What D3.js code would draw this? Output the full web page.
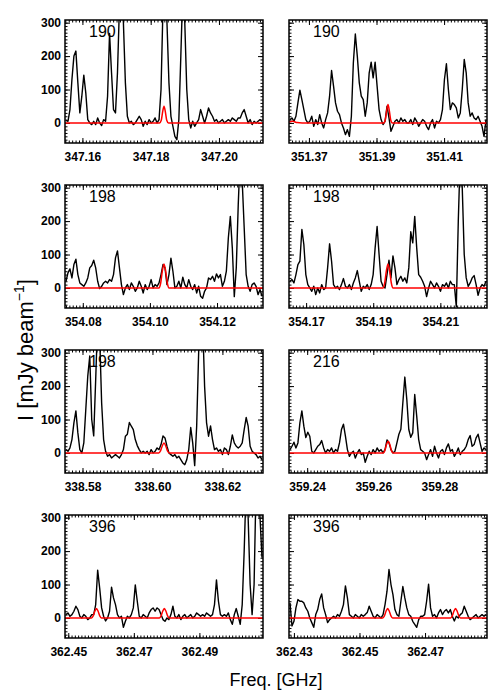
<!DOCTYPE html>
<html>
<head>
<meta charset="utf-8">
<script src="https://cdn.jsdelivr.net/npm/d3@7"></script>
<style>
  body { margin: 0; background: #fff; }
  svg { display: block; }
</style>
</head>
<body>
<svg id="chart"></svg>
<script>
// panel labels and frequency windows (GHz), left-to-right, top-to-bottom
const panelLabels = ["190", "190", "198", "198", "198", "216", "396", "396"];

const freqRanges = [
    [347.1549, 347.2129],
    [351.3641, 351.4227],
    [354.0747, 354.1337],
    [354.1649, 354.2239],
    [338.5750, 338.6316],
    [359.2345, 359.2944],
    [362.4490, 362.5094],
    [362.4285, 362.4889]
];

const xTickLabels = [
    [347.16, 347.18, 347.20],
    [351.37, 351.39, 351.41],
    [354.08, 354.10, 354.12],
    [354.17, 354.19, 354.21],
    [338.58, 338.60, 338.62],
    [359.24, 359.26, 359.28],
    [362.45, 362.47, 362.49],
    [362.43, 362.45, 362.47]
];

const yTickLabels = [0, 100, 200, 300];

// observed spectra (mJy/beam), channels evenly spread over each window
const spec1 = [
    8, 5, 40, 130, 200, 215, 120, 30, 80, 143,
    90, 10, 0, -5, 5, -5, 15, 0, -8, 10,
    5, 80, 268, 150, 40, 30, 150, 350, 400, 300,
    120, 20, 0, 5, -5, 0, 10, 20, 10, -10,
    5, -5, 10, 0, 5, 15, 0, 10, 100, 350,
    400, 300, 120, 20, -10, -40, -50, 10, 200, 400,
    300, 100, 10, -15, 5, -10, 0, 10, 40, 20,
    0, 20, 45, 30, 20, 5, 10, 0, 5, 10,
    0, 5, 10, 5, 15, 10, 5, 15, 15, 30,
    40, 20, 0, 10, -5, 5, 0, 5, 10, 5
];
const spec2 = [
    10, 15, 5, 20, 60, 98, 70, 40, 10, 0,
    5, 20, -10, 10, -5, 25, 0, -15, 10, 30,
    80, 157, 110, 60, 35, 25, 0, -15, -35, -20,
    -40, 20, 180, 266, 200, 120, 80, 70, 20, 60,
    150, 182, 135, 182, 110, 40, 10, -5, 5, 50,
    15, -25, -10, 5, 10, 0, 15, 5, 10, 0,
    0, 10, -5, 15, 5, -10, 0, 10, 5, -10,
    -20, 0, 10, -15, 5, 0, 10, 40, 130, 177,
    100, 40, 60, 55, 45, 15, 30, 100, 190, 150,
    60, 20, 30, 15, 10, 20, 5, -10, -40, 10
];
const spec3 = [
    20, 45, 57, 30, 70, 86, 40, 15, 10, 5,
    15, 30, 60, 67, 83, 60, 20, -2, 5, 15,
    20, 15, 25, 20, 40, 90, 111, 60, 10, -20,
    0, 10, -5, 15, 5, -10, 0, 20, 5, -15,
    10, -5, 5, 25, 0, 10, 5, 15, 40, 70,
    60, 10, 40, 89, 50, 0, 5, 20, 0, 32,
    10, 0, 25, 5, -5, 10, -15, 5, -25, -31,
    -10, 0, 30, 25, 35, 20, 42, 30, 40, 5,
    20, 50, 150, 214, 120, -26, 60, 250, 400, 320,
    180, 40, 5, -10, 10, 15, 5, -20, -5, -25
];
const spec4 = [
    20, 25, 15, 40, 70, 80, 175, 130, 40, 10,
    0, -10, 5, -20, 0, -15, 10, -5, 0, 60,
    132, 80, 10, 0, 5, -5, 10, 28, 5, 0,
    10, -5, 15, 30, 52, 20, -10, 5, 0, 10,
    -5, 10, 40, 120, 184, 100, 20, 5, 0, 40,
    83, 30, 96, 60, 10, 25, 35, 20, 30, 15,
    60, 168, 135, 214, 120, 40, 32, 20, 5, -26,
    0, 20, 10, 0, 15, 5, -10, 10, 5, 15,
    0, 20, 10, 10, -56, 200, 400, 300, 100, 30,
    5, 15, 30, 37, 10, -22, 0, 10, 5, 20
];
const spec5 = [
    10, 5, 15, 40, 90, 126, 60, 10, 0, 30,
    130, 230, 290, 100, 51, 220, 400, 350, 150, 40,
    5, -10, -5, -15, -10, -5, -10, -15, -5, 10,
    50, 56, 91, 80, 70, 40, 22, 10, 0, 5,
    0, 5, -5, 10, 0, 5, 15, 10, 25, 51,
    45, 20, 0, -5, -10, -5, -15, -10, -20, -30,
    -35, -20, 10, 76, 30, -38, 80, 300, 400, 400,
    200, 90, 50, 81, 40, 10, 15, 5, 10, -5,
    15, 10, -5, 20, 54, 30, 20, 15, 20, 30,
    70, 106, 80, 20, 5, 0, -5, -15, -10, -20
];
const spec6 = [
    10, 20, 32, 15, 30, 90, 126, 80, 46, 62,
    50, 5, 0, 10, 20, 25, 37, 15, 0, 10,
    5, 15, 0, 10, 5, 30, 70, 86, 50, 10,
    -10, 0, 5, -15, 0, 10, -5, 0, -28, -10,
    5, -5, 10, 0, 15, 5, 10, 0, 10, 39,
    30, 10, 0, 5, 30, 56, 71, 150, 227, 160,
    70, 47, 60, 175, 110, 40, 10, 5, 0, -20,
    -5, 10, -10, 20, 0, -15, 5, 10, -5, 15,
    27, 5, 10, -10, 0, 15, -5, 5, 10, 20,
    40, 52, 20, 25, 45, 56, 30, 5, 15, 10
];
const spec7 = [
    10, 15, 5, 10, 20, 35, 25, 5, 0, 10,
    5, -5, 0, 10, 10, 40, 143, 90, 30, 5,
    -9, 0, 20, 92, 60, 40, 10, 0, 5, -28,
    -10, 5, 0, 10, 30, 99, 50, 5, 0, 10,
    5, 0, 15, 25, 30, 20, 30, 25, 10, -5,
    -10, 0, -5, 10, 35, 5, 0, 10, -5, 5,
    10, 0, 5, 10, 0, 5, 15, 10, 5, 10,
    5, 15, 10, 5, 10, 40, 114, 50, 10, 5,
    10, 5, 15, -5, -19, 10, 28, 5, -19, 40,
    200, 400, 300, 100, 10, 100, 400, 400, 300, 180
];
const spec8 = [
    45, -24, -10, 30, 55, 50, 50, 45, 30, 20,
    0, -14, -28, 10, 25, 55, 72, 30, 10, -14,
    -5, 0, 5, 0, 10, 5, 20, 40, 96, 60,
    10, 5, 0, 10, 5, 0, 10, 5, 10, 16,
    35, 20, 5, 0, 10, 5, 0, 10, 40, 80,
    145, 100, 70, 25, 10, 5, 50, 94, 60, 30,
    10, 5, -10, -19, -28, -5, 5, 5, 10, 50,
    101, 30, 5, 10, 0, 15, 25, 10, 20, 25,
    15, 25, 5, -9, 5, 0, 10, 15, 35, 20,
    5, -5, 0, 5, 10, 0, 5, 10, 5, 10
];

// model spectra: [freq (GHz), I (mJy/beam)]
const model1 = [[347.1549, 0], [347.1826, 0], [347.1831, 8], [347.1835, 33], [347.1839, 50],
    [347.1843, 33], [347.1847, 8], [347.1852, 0], [347.2129, 0]];
const model2 = [[351.3641, 3], [351.3652, 5], [351.3665, 1], [351.3680, 0], [351.3921, 0],
    [351.3926, 9], [351.3930, 36], [351.3934, 55], [351.3938, 36], [351.3942, 9],
    [351.3947, 0], [351.4227, 0]];
const model3 = [[354.0747, 0], [354.1027, 0], [354.1032, 14], [354.1037, 50], [354.1042, 72],
    [354.1047, 50], [354.1052, 14], [354.1057, 0], [354.1337, 0]];
const model4 = [[354.1649, 0], [354.1929, 0], [354.1934, 14], [354.1939, 50], [354.1944, 72],
    [354.1949, 50], [354.1954, 14], [354.1959, 0], [354.2239, 0]];
const model5 = [[338.5750, 0], [338.6018, 0], [338.6023, 6], [338.6028, 21], [338.6033, 30],
    [338.6038, 21], [338.6043, 6], [338.6048, 0], [338.6316, 0]];
const model6 = [[359.2345, 0], [359.2630, 0], [359.2635, 7], [359.2640, 25], [359.2645, 35],
    [359.2650, 25], [359.2655, 7], [359.2660, 0], [359.2944, 0]];
const model7 = [[362.4490, 0], [362.4571, 0], [362.4576, 6], [362.4581, 20], [362.4586, 28],
    [362.4591, 20], [362.4596, 6], [362.4601, 0], [362.4778, 0], [362.4783, 6],
    [362.4788, 20], [362.4793, 28], [362.4798, 20], [362.4803, 6], [362.4808, 0],
    [362.5094, 0]];
const model8 = [[362.4285, 0], [362.4571, 0], [362.4576, 6], [362.4581, 20], [362.4586, 28],
    [362.4591, 20], [362.4596, 6], [362.4601, 0], [362.4778, 0], [362.4783, 6],
    [362.4788, 20], [362.4793, 28], [362.4798, 20], [362.4803, 6], [362.4808, 0],
    [362.4889, 0]];

const spectra = [spec1, spec2, spec3, spec4, spec5, spec6, spec7, spec8];
const models = [model1, model2, model3, model4, model5, model6, model7, model8];

// layout
const width = 500, height = 700;
const colLeft = [65, 289];
const rowTop = [20, 185, 350, 515];
const panelW = 198, panelH = 123;
const yDomain = [-60, 308];
const tickFont = "'Liberation Sans', Arial, sans-serif";

const svg = d3.select("#chart")
    .attr("width", width)
    .attr("height", height)
    .attr("viewBox", [0, 0, width, height]);

function styleAxis(g) {
    g.select(".domain").remove();
    g.selectAll("line").attr("stroke", "#000").attr("stroke-width", 1);
    g.attr("font-family", tickFont)
        .attr("font-size", 12)
        .attr("font-weight", "bold");
    g.selectAll("text").attr("fill", "#000");
}

spectra.forEach((spec, k) => {
    const col = k % 2, row = Math.floor(k / 2);
    const [lo, hi] = freqRanges[k];
    const x = d3.scaleLinear([lo, hi], [0, panelW]);
    const y = d3.scaleLinear(yDomain, [panelH, 0]);

    const g = svg.append("g")
        .attr("transform", `translate(${colLeft[col]},${rowTop[row]})`);

    g.append("clipPath")
        .attr("id", `clip${k}`)
        .append("rect")
        .attr("width", panelW)
        .attr("height", panelH);

    // minor ticks
    const xMinor = d3.range(Math.ceil(lo * 1000), Math.floor(hi * 1000) + 1).map(v => v / 1000);
    const yMinor = d3.range(-50, 301, 10);

    g.append("g").attr("transform", `translate(0,${panelH})`)
        .call(d3.axisBottom(x).tickValues(xMinor).tickSize(-2.5).tickFormat(""))
        .call(styleAxis);
    g.append("g")
        .call(d3.axisTop(x).tickValues(xMinor).tickSize(-2.5).tickFormat(""))
        .call(styleAxis);
    g.append("g")
        .call(d3.axisLeft(y).tickValues(yMinor).tickSize(-2.5).tickFormat(""))
        .call(styleAxis);
    g.append("g").attr("transform", `translate(${panelW},0)`)
        .call(d3.axisRight(y).tickValues(yMinor).tickSize(-2.5).tickFormat(""))
        .call(styleAxis);

    // major ticks
    g.append("g").attr("transform", `translate(0,${panelH})`)
        .call(d3.axisBottom(x).tickValues(xTickLabels[k]).tickSize(-5)
            .tickPadding(9.5).tickFormat(d3.format(".2f")))
        .call(styleAxis);
    g.append("g")
        .call(d3.axisTop(x).tickValues(xTickLabels[k]).tickSize(-5).tickFormat(""))
        .call(styleAxis);
    g.append("g")
        .call(d3.axisLeft(y).tickValues(yTickLabels).tickSize(-5).tickPadding(4)
            .tickFormat(col === 0 ? d3.format("d") : ""))
        .call(styleAxis);
    g.append("g").attr("transform", `translate(${panelW},0)`)
        .call(d3.axisRight(y).tickValues(yTickLabels).tickSize(-5).tickFormat(""))
        .call(styleAxis);

    const plot = g.append("g").attr("clip-path", `url(#clip${k})`);

    const step = (hi - lo) / spec.length;
    const line = d3.line()
        .x((d, i) => x(lo + (i + 0.5) * step))
        .y(d => y(d));

    plot.append("path")
        .datum(spec)
        .attr("fill", "none")
        .attr("stroke", "#000")
        .attr("stroke-width", 1.4)
        .attr("stroke-linejoin", "round")
        .attr("d", line);

    const modelLine = d3.line()
        .x(d => x(d[0]))
        .y(d => y(d[1]))
        .curve(d3.curveMonotoneX);

    plot.append("path")
        .datum(models[k])
        .attr("fill", "none")
        .attr("stroke", "#ff0000")
        .attr("stroke-width", 1.5)
        .attr("d", modelLine);

    g.append("rect")
        .attr("width", panelW)
        .attr("height", panelH)
        .attr("fill", "none")
        .attr("stroke", "#000")
        .attr("stroke-width", 1.5);

    g.append("text")
        .attr("x", 24)
        .attr("y", 17)
        .attr("font-family", tickFont)
        .attr("font-size", 16)
        .attr("fill", "#000")
        .text(panelLabels[k]);
});

// axis titles
svg.append("text")
    .attr("x", 276)
    .attr("y", 686)
    .attr("text-anchor", "middle")
    .attr("font-family", tickFont)
    .attr("font-size", 18)
    .attr("fill", "#000")
    .text("Freq. [GHz]");

const yTitle = svg.append("text")
    .attr("transform", "translate(33,350) rotate(-90)")
    .attr("text-anchor", "middle")
    .attr("font-family", tickFont)
    .attr("font-size", 22)
    .attr("fill", "#000");
yTitle.append("tspan").text("I [mJy beam");
yTitle.append("tspan").attr("dy", -9).attr("font-size", 14).text("\u22121");
yTitle.append("tspan").attr("dy", 9).text("]");
</script>
</body>
</html>
